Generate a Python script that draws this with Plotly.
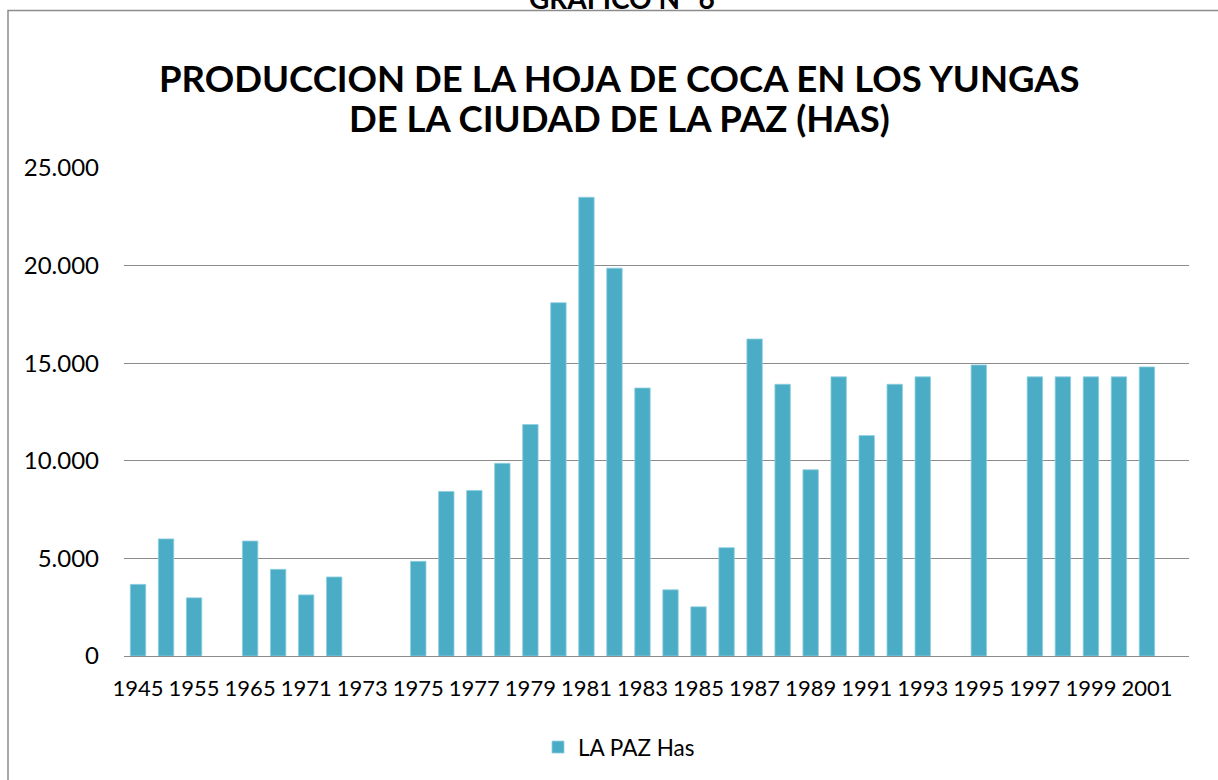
import plotly.graph_objects as go

years = ['1945', '1950', '1955', '1960', '1965', '1970', '1971', '1972', '1973', '1974',
         '1975', '1976', '1977', '1978', '1979', '1980', '1981', '1982', '1983', '1984',
         '1985', '1986', '1987', '1988', '1989', '1990', '1991', '1992', '1993', '1994',
         '1995', '1996', '1997', '1998', '1999', '2000', '2001']
la_paz_has = [3670, 6000, 2980, None, 5890, 4440, 3130, 4050, None, None,
              4850, 8430, 8480, 9870, 11860, 18100, 23500, 19870, 13730, 3390,
              2520, 5550, 16240, 13920, 9540, 14300, 11290, 13920, 14300, None,
              14910, None, 14300, 14300, 14300, 14300, 14810]
tick_labels = years[::2]
y_ticks = [0, 5000, 10000, 15000, 20000, 25000]

W, H = 1218, 780
# plot area in page pixels (as seen in the reference)
L, R, T, B = 124, 1189, 168, 657.5
pw, ph = R - L, B - T

def px(x):
    return (x - L) / pw

def py(y):
    return (B - y) / ph

fig = go.Figure()
fig.add_trace(go.Bar(
    x=years, y=la_paz_has, name='LA PAZ Has',
    marker=dict(color='#4BACC6', line=dict(color='#8FCFE0', width=0.8)),
))

font_fam = 'Lato, Noto Sans, sans-serif'

fig.update_layout(
    width=W, height=H,
    margin=dict(l=L, r=W - R, t=T, b=H - B),
    paper_bgcolor='white', plot_bgcolor='white',
    separators=',.',
    font=dict(family=font_fam, size=24, color='#000000'),
    bargap=0.45,
    showlegend=True,
    legend=dict(orientation='h', x=px(619), xanchor='center', y=py(748), yanchor='middle',
                font=dict(size=22.5, family=font_fam)),
    xaxis=dict(type='category', range=[-0.5, 37.5], tickmode='array',
               tickvals=tick_labels, ticktext=tick_labels,
               showgrid=False, showline=False, ticks='', tickangle=0,
               ticklabelstandoff=17, tickfont=dict(size=22)),
    yaxis=dict(range=[0, 25000], tickvals=y_ticks, tickformat=',d',
               showgrid=True, gridcolor='#8C8C8C', gridwidth=1.3,
               zeroline=True, zerolinecolor='#8C8C8C', zerolinewidth=1.3,
               showline=False, ticks='', ticklabelstandoff=24, tickfont=dict(size=24)),
    annotations=[
        dict(text='<b>PRODUCCION DE LA HOJA DE COCA EN LOS YUNGAS</b>', xref='paper', yref='paper',
             x=px(619), y=py(78), xanchor='center', yanchor='middle', showarrow=False,
             font=dict(size=36.5, family=font_fam, color='#000000')),
        dict(text='<b>DE LA CIUDAD DE LA PAZ (HAS)</b>', xref='paper', yref='paper',
             x=px(619), y=py(118), xanchor='center', yanchor='middle', showarrow=False,
             font=dict(size=36.5, family=font_fam, color='#000000')),
        dict(text='<b>GRAFICO N° 6</b>', xref='paper', yref='paper',
             x=px(622), y=py(-3), xanchor='center', yanchor='middle', showarrow=False,
             font=dict(size=28, family=font_fam, color='#000000')),
    ],
    shapes=[
        dict(type='rect', xref='paper', yref='paper',
             x0=px(8), x1=px(1260), y0=py(820), y1=py(10),
             line=dict(color='#8C8C8C', width=1.5), fillcolor='rgba(0,0,0,0)', layer='below'),
    ],
)

fig.write_html('out.html', config={'displayModeBar': False},
               post_script="document.body.style.margin='0';document.body.style.padding='0';")
